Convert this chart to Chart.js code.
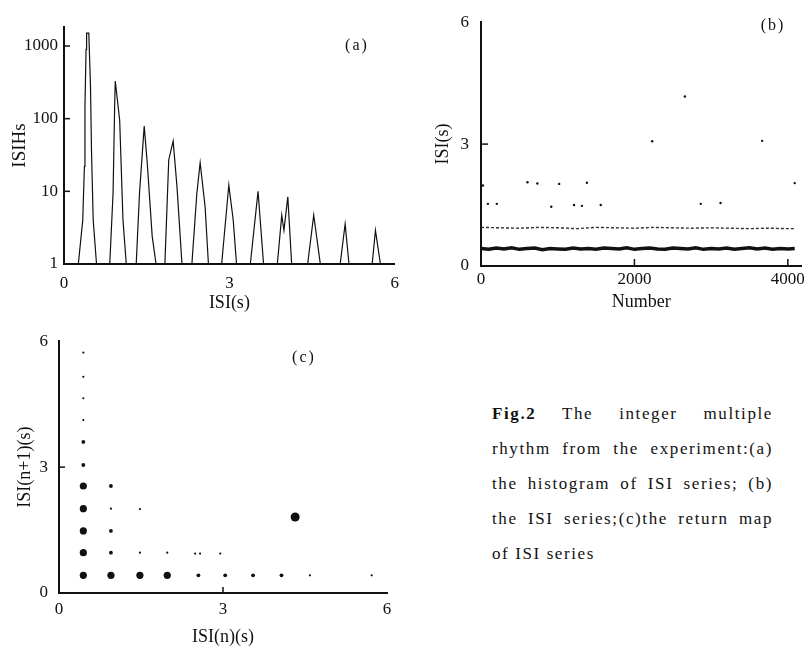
<!DOCTYPE html>
<html>
<head>
<meta charset="utf-8">
<script src="https://cdn.jsdelivr.net/npm/chart.js@4.4.1/dist/chart.umd.min.js"></script>
<style>
    body { margin: 0; background: #fff; width: 808px; height: 648px; position: relative; overflow: hidden; font-family: "Liberation Serif", serif; color: #111; }
    canvas { position: absolute; }
    .tag { position: absolute; font-size: 16px; letter-spacing: 2px; transform: translate(-50%, -50%); }
    #caption { position: absolute; left: 492px; top: 396px; width: 281px; font-size: 17px; letter-spacing: 1.6px; line-height: 35px; }
    #caption div { text-align: justify; text-align-last: justify; white-space: nowrap; }
    #caption div.last { text-align-last: left; }
</style>
</head>
<body>
<canvas id="histChart" width="408" height="320" style="left:0;top:0"></canvas>
<canvas id="seriesChart" width="398" height="320" style="left:410px;top:0"></canvas>
<canvas id="returnChart" width="410" height="328" style="left:0;top:320px"></canvas>

<div class="tag" style="left:357px;top:45px">(a)</div>
<div class="tag" style="left:773px;top:25px">(b)</div>
<div class="tag" style="left:304px;top:357px">(c)</div>

<div id="caption">
    <div><b>Fig.2</b> The integer multiple</div>
    <div>rhythm from the experiment:(a)</div>
    <div>the histogram of ISI series; (b)</div>
    <div>the ISI series;(c)the return map</div>
    <div class="last">of ISI series</div>
</div>

<script>
// (a) histogram of ISI, log counts
const histIsi = [0, 0.26, 0.34, 0.37, 0.38, 0.40, 0.41, 0.45, 0.48, 0.50, 0.53, 0.59,
    0.83, 0.89, 0.92, 0.93, 1.01, 1.07, 1.13,
    1.31, 1.37, 1.455, 1.51, 1.60, 1.67,
    1.83, 1.90, 1.98, 2.05, 2.14,
    2.32, 2.41, 2.47, 2.56, 2.62,
    2.86, 2.99, 3.07, 3.13,
    3.38, 3.52, 3.62,
    3.87, 3.95, 3.99, 4.06, 4.13,
    4.42, 4.53, 4.65,
    5.01, 5.10, 5.17,
    5.59, 5.65, 5.74, 6];
const histCount = [1, 1, 4, 22, 145, 900, 1500, 1500, 290, 33, 4, 1,
    1, 9.5, 163, 330, 95, 4, 1,
    1, 9.5, 79, 24.5, 2.4, 1,
    1, 27, 49, 11.5, 1,
    1, 9.4, 24.7, 6.1, 1,
    1, 12.2, 4.0, 1,
    1, 10, 1,
    1, 4.7, 2.9, 8.4, 1,
    1, 4.7, 1,
    1, 3.55, 1,
    1, 2.9, 1, 1];
const histYTicks = [1, 10, 100, 1000];
const histXTicks = [0, 3, 6];

// (b) ISI series
const bandNum = [0, 100, 200, 300, 400, 500, 600, 700, 800, 900, 1000, 1100, 1200, 1300, 1400,
    1500, 1600, 1700, 1800, 1900, 2000, 2100, 2200, 2300, 2400, 2500, 2600, 2700, 2800,
    2900, 3000, 3100, 3200, 3300, 3400, 3500, 3600, 3700, 3800, 3900, 4000, 4090];
const bandIsi = [0.43, 0.41, 0.44, 0.42, 0.45, 0.41, 0.43, 0.44, 0.40, 0.43, 0.42, 0.41, 0.44, 0.42,
    0.43, 0.41, 0.44, 0.43, 0.42, 0.45, 0.41, 0.43, 0.44, 0.42, 0.41, 0.44, 0.43, 0.42,
    0.45, 0.41, 0.43, 0.42, 0.44, 0.41, 0.43, 0.45, 0.42, 0.44, 0.41, 0.43, 0.42, 0.43];
const secondNum = [0, 250, 500, 750, 1000, 1250, 1500, 1750, 2000, 2250, 2500, 2750, 3000, 3250, 3500, 3750, 4000, 4090];
const secondIsi = [0.95, 0.94, 0.93, 0.95, 0.94, 0.92, 0.95, 0.94, 0.93, 0.95, 0.94, 0.93, 0.94, 0.93, 0.92, 0.93, 0.92, 0.92];
const outlierNum = [26, 90, 206, 606, 735, 916, 1019, 1213, 1316, 1381, 1561, 2232, 2658, 2865, 3123, 3665, 4090];
const outlierIsi = [1.98, 1.53, 1.53, 2.06, 2.03, 1.46, 2.02, 1.50, 1.48, 2.05, 1.50, 3.07, 4.17, 1.53, 1.55, 3.08, 2.04];
const seriesXTicks = [0, 2000, 4000];
const seriesYTicks = [0, 3, 6];

// (c) return map, grouped by how heavy the dot is
const heavyIsiN = [4.32];
const heavyIsiN1 = [1.81];
const bigIsiN = [0.445, 0.445, 0.445, 0.445, 0.445, 0.95, 1.48, 1.98];
const bigIsiN1 = [0.42, 0.96, 1.48, 2.01, 2.55, 0.42, 0.42, 0.42];
const midIsiN = [0.445, 0.445, 0.95, 0.95, 0.95, 2.55, 3.04, 3.55, 4.07];
const midIsiN1 = [3.05, 3.60, 0.96, 1.48, 2.55, 0.42, 0.42, 0.42, 0.42];
const smallIsiN = [0.445, 0.445, 0.445, 0.445, 0.95, 1.48, 1.48, 1.98, 2.49, 2.58, 2.95, 4.59, 5.72];
const smallIsiN1 = [4.12, 4.64, 5.15, 5.73, 2.01, 0.96, 2.00, 0.96, 0.94, 0.94, 0.94, 0.42, 0.42];
const returnTicks = [0, 3, 6];

const toPoints = (xs, ys) => xs.map((x, i) => ({ x: x, y: ys[i] }));
const fixTicks = (list) => (scale) => { scale.ticks = list.map((v) => ({ value: v })); };

const ink = "#111";
const tickFont = { family: "Liberation Serif", size: 17 };
const titleFont = { family: "Liberation Serif", size: 18 };

// short tick marks pointing into the plot
const insideTicks = {
    id: "insideTicks",
    afterDatasetsDraw(chart, args, opts) {
        const { ctx, chartArea, scales } = chart;
        ctx.save();
        ctx.strokeStyle = ink;
        ctx.lineWidth = 1.5;
        (opts.x || []).forEach((v) => {
            const px = scales.x.getPixelForValue(v);
            ctx.beginPath();
            ctx.moveTo(px, chartArea.bottom);
            ctx.lineTo(px, chartArea.bottom - opts.len);
            ctx.stroke();
        });
        (opts.y || []).forEach((v) => {
            const py = scales.y.getPixelForValue(v);
            ctx.beginPath();
            ctx.moveTo(chartArea.left, py);
            ctx.lineTo(chartArea.left + opts.len, py);
            ctx.stroke();
        });
        ctx.restore();
    },
};

const axisBase = {
    grid: { display: false, drawTicks: false },
    border: { display: true, color: ink, width: 2 },
    ticks: { color: ink, font: tickFont, maxRotation: 0, autoSkip: false },
};

const xAxis = (min, max, ticks, title, pad, height, labelPad) => ({
    ...axisBase,
    type: "linear",
    min: min,
    max: max,
    afterBuildTicks: fixTicks(ticks),
    afterFit: (scale) => { scale.height = height; },
    ticks: { ...axisBase.ticks, padding: labelPad, callback: (v) => String(v) },
    title: { display: true, text: title, color: ink, font: titleFont, padding: { top: 0, bottom: pad } },
});

const yAxis = (type, min, max, ticks, title, pad, width, labelPad, size) => ({
    ...axisBase,
    type: type,
    min: min,
    max: max,
    afterBuildTicks: fixTicks(ticks),
    afterFit: (scale) => { scale.width = width; },
    ticks: { ...axisBase.ticks, padding: labelPad, callback: (v) => String(v) },
    title: { display: true, text: title, color: ink, font: { family: "Liberation Serif", size: size }, padding: { top: pad, bottom: 0 } },
});

const common = {
    responsive: false,
    animation: false,
    plugins: { legend: { display: false }, tooltip: { enabled: false } },
};

new Chart(document.getElementById("histChart"), {
    type: "scatter",
    data: {
        datasets: [{
            data: toPoints(histIsi, histCount),
            showLine: true,
            borderColor: ink,
            borderWidth: 1.2,
            pointRadius: 0,
            tension: 0,
        }],
    },
    options: {
        ...common,
        layout: { padding: { top: 27, right: 10, left: 0, bottom: 0 } },
        scales: {
            x: xAxis(0, 6, histXTicks, "ISI(s)", 6, 56, 9),
            y: yAxis("logarithmic", 1, 1825, histYTicks, "ISIHs", 9, 64, 6, 19),
        },
        plugins: { ...common.plugins, insideTicks: { y: [10, 100, 1000], len: 6 } },
    },
    plugins: [insideTicks],
});

new Chart(document.getElementById("seriesChart"), {
    type: "scatter",
    data: {
        datasets: [
            {
                data: toPoints(bandNum, bandIsi),
                showLine: true,
                borderColor: ink,
                borderWidth: 3.5,
                pointRadius: 0,
            },
            {
                data: toPoints(secondNum, secondIsi),
                showLine: true,
                borderColor: "#333",
                borderWidth: 1.4,
                borderDash: [3, 2],
                pointRadius: 0,
            },
            {
                data: toPoints(outlierNum, outlierIsi),
                backgroundColor: ink,
                borderWidth: 0,
                pointRadius: 1.2,
            },
        ],
    },
    options: {
        ...common,
        layout: { padding: { top: 15, right: 3, left: 0, bottom: 0 } },
        scales: {
            x: xAxis(0, 4180, seriesXTicks, "Number", 7, 54, 3),
            y: yAxis("linear", 0, 6, seriesYTicks, "ISI(s)", 22, 71, 12, 18),
        },
        plugins: { ...common.plugins, insideTicks: { x: [2000, 4000], y: [3], len: 7 } },
    },
    plugins: [insideTicks],
});

new Chart(document.getElementById("returnChart"), {
    type: "scatter",
    data: {
        datasets: [
            { data: toPoints(heavyIsiN, heavyIsiN1), backgroundColor: ink, borderWidth: 0, pointRadius: 4.5 },
            { data: toPoints(bigIsiN, bigIsiN1), backgroundColor: ink, borderWidth: 0, pointRadius: 3.6 },
            { data: toPoints(midIsiN, midIsiN1), backgroundColor: ink, borderWidth: 0, pointRadius: 1.9 },
            { data: toPoints(smallIsiN, smallIsiN1), backgroundColor: ink, borderWidth: 0, pointRadius: 1.1 },
        ],
    },
    options: {
        ...common,
        layout: { padding: { top: 15, right: 23, left: 0, bottom: 0 } },
        scales: {
            x: xAxis(0, 6, returnTicks, "ISI(n)(s)", 0, 55, 6),
            y: yAxis("linear", 0, 6, returnTicks, "ISI(n+1)(s)", 14, 59, 11, 18),
        },
        plugins: { ...common.plugins, insideTicks: { x: [3], y: [3], len: 6 } },
    },
    plugins: [insideTicks],
});
</script>
</body>
</html>
